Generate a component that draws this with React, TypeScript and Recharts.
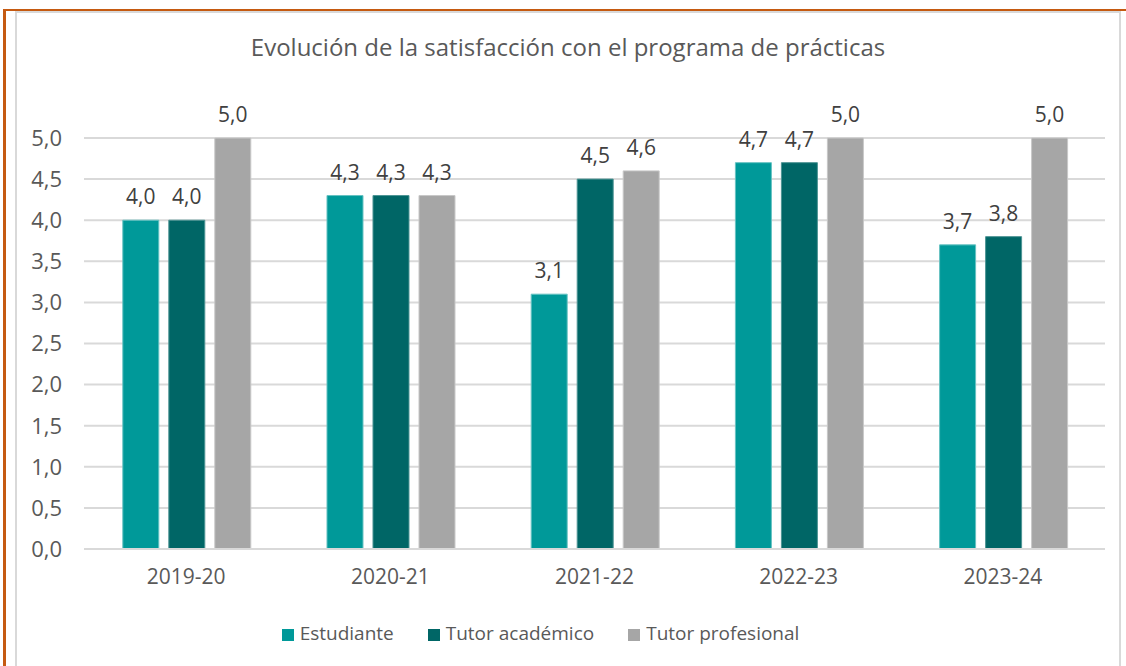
import { Bar, BarChart, CartesianGrid, LabelList, Legend, XAxis, YAxis } from 'recharts'

const years = ['2019-20', '2020-21', '2021-22', '2022-23', '2023-24']
const estudiante = [4.0, 4.3, 3.1, 4.7, 3.7]
const tutorAcademico = [4.0, 4.3, 4.5, 4.7, 3.8]
const tutorProfesional = [5.0, 4.3, 4.6, 5.0, 5.0]
const yTicks = [0, 0.5, 1, 1.5, 2, 2.5, 3, 3.5, 4, 4.5, 5]

const data = years.map((y, i) => ({
  year: y,
  estudiante: estudiante[i],
  tutorAcademico: tutorAcademico[i],
  tutorProfesional: tutorProfesional[i],
}))

const font = '"Open Sans", "Noto Sans", sans-serif'
const fmt = (v: any) => Number(v).toFixed(1).replace('.', ',')

export default function App() {
  return (
    <div style={{ position: 'fixed', left: 0, top: 0, width: 1126, height: 666, background: '#fff', fontFamily: font, overflow: 'hidden' }}>
      <div style={{ position: 'absolute', left: 3, top: 9, width: 1123, height: 657, borderLeft: '3px solid #C55A11', borderTop: '2px solid #C55A11', boxSizing: 'border-box' }} />
      <div style={{ position: 'absolute', left: 15, top: 11, width: 1106, height: 680, border: '2px solid #D9D9D9', boxSizing: 'border-box' }} />
      <div style={{ position: 'absolute', left: 16, top: 30, width: 1104, textAlign: 'center', fontSize: 24, color: '#595959' }}>
        Evolución de la satisfacción con el programa de prácticas
      </div>
      <div style={{ position: 'absolute', left: 16, top: 12 }}>
        <BarChart width={1104} height={654} data={data} margin={{ top: 126, right: 15, left: 0, bottom: 20 }} barCategoryGap="19%" barGap={10}>
          <CartesianGrid vertical={false} stroke="#D9D9D9" strokeWidth={2} />
          <XAxis dataKey="year" tickLine={false} axisLine={{ stroke: '#D9D9D9', strokeWidth: 2 }} tick={{ fill: '#595959', fontSize: 21, fontFamily: font }} tickMargin={14} height={71} />
          <YAxis domain={[0, 5]} ticks={yTicks} tickFormatter={fmt} axisLine={false} tickLine={false} width={68} tick={{ fill: '#595959', fontSize: 22, fontFamily: font }} tickMargin={16} />
          <Legend
            verticalAlign="bottom"
            iconType="square"
            iconSize={12}
            wrapperStyle={{ fontSize: 19, fontFamily: font, color: '#595959', paddingRight: 6, boxSizing: 'border-box' }}
            formatter={(v: any) => <span style={{ color: '#595959', marginLeft: 2, marginRight: 24 }}>{v}</span>}
          />
          <Bar dataKey="estudiante" name="Estudiante" fill="#009999" stroke="#66c2c2" strokeWidth={1} isAnimationActive={false}>
            <LabelList dataKey="estudiante" position="top" offset={16} formatter={fmt} fill="#404040" fontSize={21} fontFamily={font} />
          </Bar>
          <Bar dataKey="tutorAcademico" name="Tutor académico" fill="#006666" stroke="#4d9494" strokeWidth={1} isAnimationActive={false}>
            <LabelList dataKey="tutorAcademico" position="top" offset={16} formatter={fmt} fill="#404040" fontSize={21} fontFamily={font} />
          </Bar>
          <Bar dataKey="tutorProfesional" name="Tutor profesional" fill="#A6A6A6" stroke="#c8c8c8" strokeWidth={1} isAnimationActive={false}>
            <LabelList dataKey="tutorProfesional" position="top" offset={16} formatter={fmt} fill="#404040" fontSize={21} fontFamily={font} />
          </Bar>
        </BarChart>
      </div>
    </div>
  )
}
